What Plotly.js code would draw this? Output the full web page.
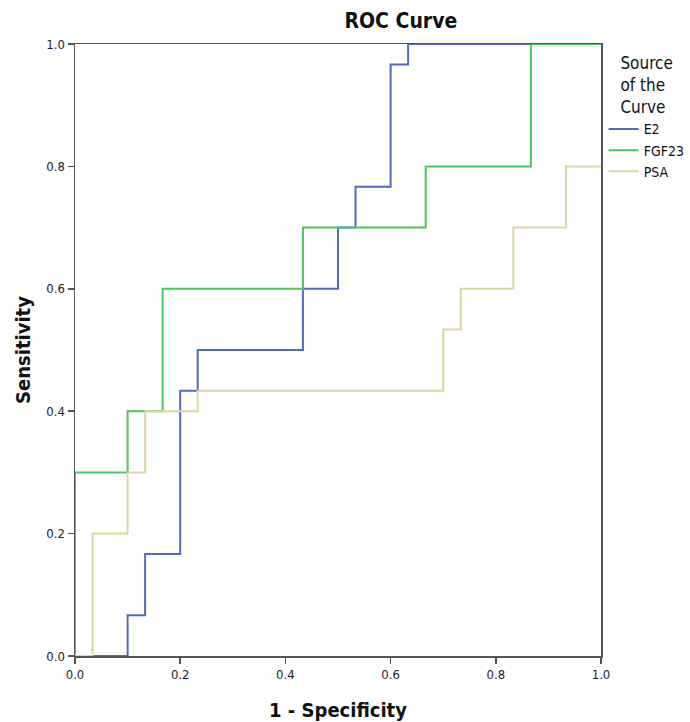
<!DOCTYPE html>
<html>
<head>
<meta charset="utf-8">
<script src="https://cdn.plot.ly/plotly-3.0.1.min.js"></script>
<style>
  html, body { margin: 0; padding: 0; background: #fff; }
  #chart { width: 690px; height: 722px; }
</style>
</head>
<body>
<div id="chart"></div>
<script>
// ROC curve data (1 - Specificity, Sensitivity), step points
const seriesNames = ["E2", "FGF23", "PSA"];
const e2X    = [0, 0.1, 0.1333, 0.2, 0.2333, 0.4333, 0.5, 0.5333, 0.6, 0.6333, 1.0];
const e2Y    = [0, 0.0667, 0.1667, 0.4333, 0.5, 0.6, 0.7, 0.7667, 0.9667, 1.0, 1.0];
const fgf23X = [0, 0, 0.1, 0.1667, 0.4333, 0.6667, 0.8667, 1.0];
const fgf23Y = [0, 0.3, 0.4, 0.6, 0.7, 0.8, 1.0, 1.0];
const psaX   = [0, 0.0333, 0.1, 0.1333, 0.2333, 0.7, 0.7333, 0.8333, 0.9333, 1.0];
const psaY   = [0, 0.2, 0.3, 0.4, 0.4333, 0.5333, 0.6, 0.7, 0.8, 0.8];
const tickVals = [0, 0.2, 0.4, 0.6, 0.8, 1.0];
const tickText = ["0.0", "0.2", "0.4", "0.6", "0.8", "1.0"];

const colors = ["#5468bd", "#4cc65a", "#dcd6a2"];
const xs = [e2X, fgf23X, psaX];
const ys = [e2Y, fgf23Y, psaY];

const font = "'DejaVu Sans Condensed', 'Liberation Sans Narrow', sans-serif";

const traces = seriesNames.map((n, i) => ({
  type: "scatter",
  mode: "lines",
  name: n,
  x: xs[i],
  y: ys[i],
  line: { shape: "hv", color: colors[i], width: 2 },
  cliponaxis: false,
  hoverinfo: "x+y+name"
}));

const axisCommon = {
  range: [0, 1],
  tickvals: tickVals,
  ticktext: tickText,
  showgrid: false,
  zeroline: false,
  showline: true,
  mirror: true,
  linecolor: "#555",
  linewidth: 1.5,
  ticks: "outside",
  ticklen: 6,
  tickwidth: 1.5,
  tickcolor: "#555",
  tickfont: { family: font, size: 13, color: "#1c1c2a" }
};

const layout = {
  width: 690,
  height: 722,
  margin: { l: 75, r: 89, t: 44, b: 66, autoexpand: false },
  paper_bgcolor: "#fff",
  plot_bgcolor: "#fff",
  title: {
    text: "<b>ROC Curve</b>",
    x: 0.581, xref: "container", xanchor: "center",
    y: 0.971, yref: "container", yanchor: "middle",
    font: { family: font, size: 21, color: "#111" }
  },
  xaxis: Object.assign({}, axisCommon, {
    title: { text: "<b>1 - Specificity</b>", font: { family: font, size: 20, color: "#111" }, standoff: 22 }
  }),
  yaxis: Object.assign({}, axisCommon, {
    title: { text: "<b>Sensitivity</b>", font: { family: font, size: 20, color: "#111" }, standoff: 10 }
  }),
  showlegend: true,
  legend: {
    x: 1.005, xanchor: "left", y: 0.995, yanchor: "top",
    bgcolor: "rgba(0,0,0,0)",
    font: { family: font, size: 14, color: "#111" },
    title: { text: "Source<br>of the<br>Curve", side: "top center", font: { family: font, size: 17, color: "#111" } },
    itemwidth: 30,
    tracegroupgap: 0
  }
};

Plotly.newPlot("chart", traces, layout, { displayModeBar: false, staticPlot: true });
</script>
</body>
</html>
